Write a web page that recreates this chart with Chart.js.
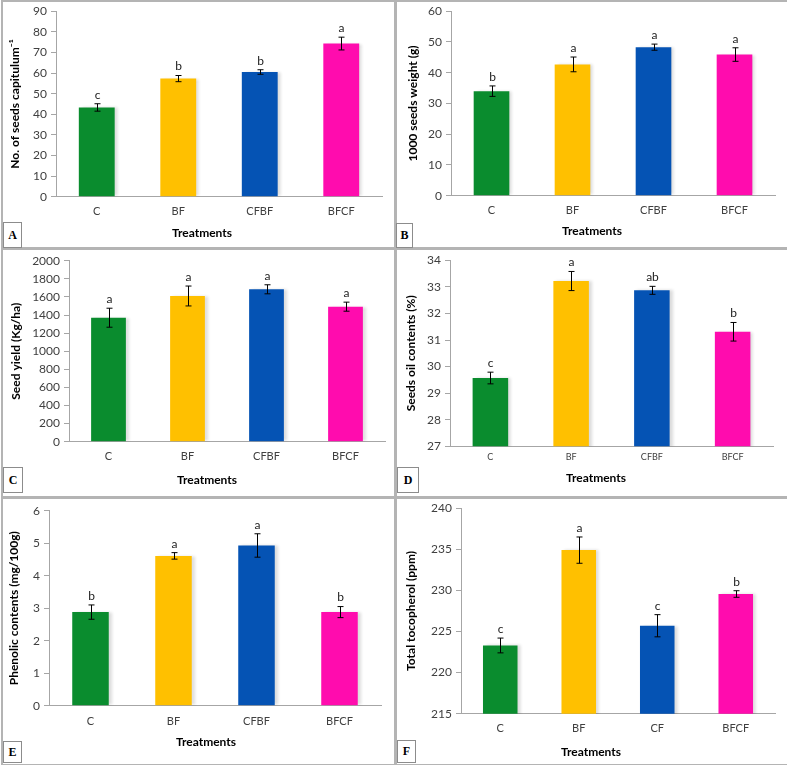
<!DOCTYPE html>
<html>
<head>
<meta charset="utf-8">
<title>Treatments</title>
<script src="https://cdn.jsdelivr.net/npm/chart.js@4.4.1/dist/chart.umd.min.js"></script>
<style>
  body { margin: 0; background: #fff; }
  #page { position: relative; width: 787px; height: 765px; overflow: hidden; }
  canvas { position: absolute; }
  .frame { position: absolute; border: 2px solid #b4b4b4; box-sizing: border-box; }
  .tag {
    position: absolute; border: 1px solid #8c8c8c; background: #fff; box-sizing: border-box;
    font: bold 12px "Liberation Serif", serif; color: #000;
    display: flex; align-items: center; justify-content: center;
  }
</style>
</head>
<body>
<div id="page"></div>
<script>
// ---- data ----
const treatments = ["C", "BF", "CFBF", "BFCF"];
const treatmentsF = ["C", "BF", "CF", "BFCF"];

const seedsCapitulum = [43.3, 57.3, 60.5, 74.3];
const seedsCapitulumErr = [1.8, 1.5, 1.1, 3.1];
const seedsCapitulumLetters = ["c", "b", "b", "a"];

const seedWeight = [34.0, 42.7, 48.3, 45.9];
const seedWeightErr = [1.7, 2.4, 1.0, 2.2];
const seedWeightLetters = ["b", "a", "a", "a"];

const seedYield = [1370, 1610, 1684, 1492];
const seedYieldErr = [105, 110, 50, 50];
const seedYieldLetters = ["a", "a", "a", "a"];

const oilContent = [29.57, 33.22, 32.87, 31.31];
const oilContentErr = [0.22, 0.36, 0.15, 0.35];
const oilContentLetters = ["c", "a", "ab", "b"];

const phenolic = [2.88, 4.61, 4.93, 2.88];
const phenolicErr = [0.22, 0.10, 0.36, 0.17];
const phenolicLetters = ["b", "a", "a", "b"];

const tocopherol = [223.3, 234.9, 225.7, 229.56];
const tocopherolErr = [0.9, 1.6, 1.35, 0.4];
const tocopherolLetters = ["c", "a", "c", "b"];

// y axis ranges: [min, max, step]
const yRangeA = [0, 90, 10];
const yRangeB = [0, 60, 10];
const yRangeC = [0, 2000, 200];
const yRangeD = [27, 34, 1];
const yRangeE = [0, 6, 1];
const yRangeF = [215, 240, 5];

const barColors = ["#0a8c2e", "#ffc000", "#0553b4", "#ff0cae"];

// ---- panels: data + layout (canvas coords) ----
const panels = [
  { tag: "A", labels: treatments, values: seedsCapitulum, err: seedsCapitulumErr, letters: seedsCapitulumLetters,
    range: yRangeA, yTitle: "No. of seeds capitulum\u207B\u00B9",
    box: [0, 0, 394, 248], plot: [56, 382, 6.7, 196.7], yTitleX: 15, xLabelY: 212, captionX: 202, captionY: 233,
    tagBox: [3, 222, 19, 26], xFont: 11 },
  { tag: "B", labels: treatments, values: seedWeight, err: seedWeightErr, letters: seedWeightLetters,
    range: yRangeB, yTitle: "1000 seeds weight (g)",
    box: [394, 0, 393, 248], plot: [57, 381, 11, 195.7], yTitleX: 19, xLabelY: 211, captionX: 198, captionY: 231,
    tagBox: [396, 223, 17, 25], xFont: 11 },
  { tag: "C", labels: treatments, values: seedYield, err: seedYieldErr, letters: seedYieldLetters,
    range: yRangeC, yTitle: "Seed yield (Kg/ha)",
    box: [0, 248, 394, 249], plot: [69, 385, 12.7, 193.7], yTitleX: 16, xLabelY: 209, captionX: 207, captionY: 232,
    tagBox: [3, 467, 20, 26], xFont: 11 },
  { tag: "D", labels: treatments, values: oilContent, err: oilContentErr, letters: oilContentLetters,
    range: yRangeD, yTitle: "Seeds oil contents (%)",
    box: [394, 248, 393, 249], plot: [56, 379, 12.3, 198.3], yTitleX: 17, xLabelY: 211, captionX: 202, captionY: 230,
    tagBox: [397, 467, 22, 26], xFont: 9 },
  { tag: "E", labels: treatments, values: phenolic, err: phenolicErr, letters: phenolicLetters,
    range: yRangeE, yTitle: "Phenolic contents (mg/100g)",
    box: [0, 497, 394, 268], plot: [49, 381, 13.7, 208.7], yTitleX: 14, xLabelY: 225, captionX: 206, captionY: 245,
    tagBox: [3, 741, 19, 22], xFont: 11 },
  { tag: "F", labels: treatmentsF, values: tocopherol, err: tocopherolErr, letters: tocopherolLetters,
    range: yRangeF, yTitle: "Total tocopherol (ppm)",
    box: [394, 497, 393, 268], plot: [67, 381, 10.7, 216.7], yTitleX: 17, xLabelY: 232, captionX: 197, captionY: 255,
    tagBox: [397, 740, 19, 23], xFont: 11 },
];

Chart.defaults.font.family = "Lato, 'Open Sans', sans-serif";
Chart.defaults.animation = false;

// soft Excel-like shadow on the bars
const barShadow = {
  id: "barShadow",
  beforeDatasetsDraw(chart) {
    const ctx = chart.ctx;
    ctx.save();
    ctx.shadowColor = "rgba(0,0,0,0.14)";
    ctx.shadowOffsetX = 3;
    ctx.shadowOffsetY = 0;
    ctx.shadowBlur = 3;
  },
  afterDatasetsDraw(chart) {
    chart.ctx.restore();
  }
};

// error bars + significance letters
const errorBars = {
  id: "errorBars",
  afterDatasetsDraw(chart, args, opts) {
    const { ctx, scales: { x, y } } = chart;
    const vals = chart.data.datasets[0].data;
    ctx.save();
    ctx.strokeStyle = "#000";
    ctx.lineWidth = 1;
    ctx.fillStyle = "#222";
    ctx.font = "12px Lato, sans-serif";
    ctx.textAlign = "center";
    ctx.textBaseline = "middle";
    vals.forEach((v, i) => {
      const px = Math.round(x.getPixelForValue(i)) + 0.5;
      const hi = y.getPixelForValue(v + opts.err[i]);
      const lo = y.getPixelForValue(v - opts.err[i]);
      ctx.beginPath();
      ctx.moveTo(px, hi); ctx.lineTo(px, lo);
      ctx.moveTo(px - 3, hi); ctx.lineTo(px + 3, hi);
      ctx.moveTo(px - 3, lo); ctx.lineTo(px + 3, lo);
      ctx.stroke();
      ctx.fillText(opts.letters[i], px, hi - 9);
    });
    ctx.restore();
  }
};

// "Treatments" caption under the category axis
const axisCaption = {
  id: "axisCaption",
  afterDraw(chart, args, opts) {
    const ctx = chart.ctx;
    ctx.save();
    ctx.fillStyle = "#000";
    ctx.font = "bold 12px Lato, sans-serif";
    ctx.textAlign = "center";
    ctx.textBaseline = "middle";
    ctx.fillText(opts.text, opts.x, opts.y);
    ctx.restore();
  }
};

const page = document.getElementById("page");

// panel frames
panels.forEach(p => {
  const f = document.createElement("div");
  f.className = "frame";
  f.style.left = (p.box[0] + 1) + "px";
  f.style.top = p.box[1] + "px";
  f.style.width = (p.box[2] + 1) + "px";
  f.style.height = (p.box[3] + 1) + "px";
  page.appendChild(f);
});

panels.forEach(p => {
  const [bx, by, bw, bh] = p.box;
  const [pl, pr, pt, pb] = p.plot;
  const cv = document.createElement("canvas");
  cv.width = bw; cv.height = bh;
  cv.style.left = bx + "px"; cv.style.top = by + "px";
  page.appendChild(cv);

  const titleSize = 12;
  const padLeft = p.yTitleX - titleSize * 1.2 / 2;

  new Chart(cv, {
    type: "bar",
    data: {
      labels: p.labels,
      datasets: [{
        data: p.values,
        backgroundColor: barColors,
        borderWidth: 0,
        barPercentage: 1,
        categoryPercentage: 0.44
      }]
    },
    options: {
      responsive: false,
      devicePixelRatio: 1,
      layout: { padding: { left: padLeft, right: bw - pr, top: pt, bottom: 0 } },
      plugins: {
        legend: { display: false },
        tooltip: { enabled: false },
        errorBars: { err: p.err, letters: p.letters },
        axisCaption: { text: "Treatments", x: p.captionX, y: p.captionY }
      },
      scales: {
        x: {
          grid: { display: false, drawTicks: false },
          border: { color: "#a6a6a6", width: 1 },
          ticks: { color: "#404040", font: { size: p.xFont }, padding: p.xLabelY - pb - 7 },
          afterFit(s) { s.height = bh - pb; }
        },
        y: {
          min: p.range[0], max: p.range[1],
          ticks: { stepSize: p.range[2], color: "#404040", font: { size: 12 }, padding: 4,
                   callback: v => String(v) },
          grid: { drawOnChartArea: false, tickLength: 5, color: "#a6a6a6" },
          border: { color: "#a6a6a6", width: 1 },
          title: { display: true, text: p.yTitle, color: "#000", padding: 0,
                   font: { size: titleSize, weight: "bold" } },
          afterFit(s) { s.width = pl - padLeft; }
        }
      }
    },
    plugins: [barShadow, errorBars, axisCaption]
  });

  const t = document.createElement("div");
  t.className = "tag";
  t.textContent = p.tag;
  t.style.left = p.tagBox[0] + "px";
  t.style.top = p.tagBox[1] + "px";
  t.style.width = p.tagBox[2] + "px";
  t.style.height = p.tagBox[3] + "px";
  page.appendChild(t);
});
</script>
</body>
</html>
